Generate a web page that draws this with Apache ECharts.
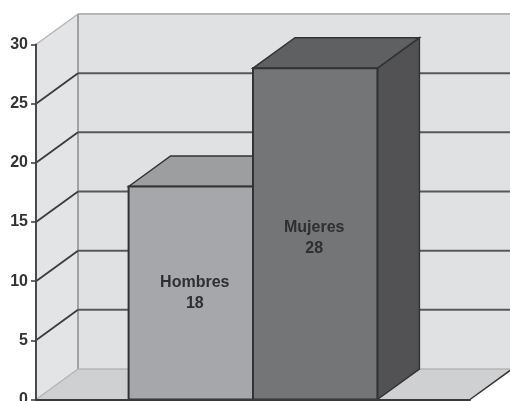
<!DOCTYPE html>
<html>
<head>
<meta charset="utf-8">
<style>
html,body{margin:0;padding:0;background:#fff;overflow:hidden}
#c{width:510px;height:401px;filter:blur(0.45px)}
</style>
<script src="https://cdn.jsdelivr.net/npm/echarts@6/dist/echarts.min.js"></script>
</head>
<body>
<div id="c"></div>
<script>
var categories = ['Hombres', 'Mujeres'];
var values = [18, 28];
var gridValues = [5, 10, 15, 20, 25];
var tickValues = [0, 5, 10, 15, 20, 25, 30];

var DX = 42, DY = -30.5, BAR_RATIO = 124.4 / 434;
var faces = {
  Hombres: {front: '#a6a7aa', top: '#9d9ea0', side: '#8a8b8d', dx: 4, dy: 0},
  Mujeres: {front: '#747577', top: '#5f6062', side: '#525254', dx: -1, dy: 4}
};
var FONT = 'bold 16px "Liberation Sans", Arial, sans-serif';

function poly(points, fill, stroke, width) {
  return {type: 'polygon', shape: {points: points},
    style: {fill: fill, stroke: stroke || 'none', lineWidth: width || 0}};
}
function line(x1, y1, x2, y2, stroke, width) {
  return {type: 'line', shape: {x1: x1, y1: y1, x2: x2, y2: y2},
    style: {stroke: stroke, lineWidth: width, fill: 'none'}};
}

function renderBack(params, api) {
  if (params.dataIndex !== 0) return {type: 'group', children: []};
  var size = api.size([0, 1]);
  var band = size[0];
  var c = api.coord([0, 0]);
  var L = c[0] - band / 2, R = c[0] + band / 2, B = c[1];
  var T = api.coord([0, 30])[1];
  var wall = '#e0e1e3', floor = '#cfd0d2', edge = '#b4b5b7';
  var kids = [
    poly([[L + DX, T + DY], [R + DX, T + DY], [R + DX, B + DY], [L + DX, B + DY]], wall),
    poly([[L, T], [L + DX, T + DY], [L + DX, B + DY], [L, B]], '#e3e4e6'),
    poly([[L, B], [L + DX, B + DY], [R + DX, B + DY], [R, B]], floor),
    line(L + DX, T + DY, R + DX, T + DY, edge, 2),
    line(L, T, L + DX, T + DY, edge, 1.5),
    line(L + DX, T + DY, L + DX, B + DY, '#a0a1a3', 2),
    line(L + DX, B + DY, R + DX, B + DY, edge, 1.5),
    line(L, B, L + DX, B + DY, edge, 1.5),
    line(R, B, R + DX, B + DY, '#333', 1.5)
  ];
  gridValues.forEach(function (v) {
    var y = api.coord([0, v])[1];
    kids.push(line(L, y, L + DX, y + DY, '#3c3c3e', 1.8));
    kids.push(line(L + DX, y + DY, R + DX, y + DY, '#57585a', 2));
  });
  return {type: 'group', children: kids};
}

function renderBar(params, api) {
  var i = params.dataIndex;
  var name = categories[i], f = faces[name];
  var band = api.size([0, 1])[0], w = band * BAR_RATIO;
  var c = api.coord([0, 0]);
  var x0 = c[0] + (i - 1) * w, x1 = x0 + w;
  var B = c[1], T = api.coord([0, api.value(1)])[1];
  var s = '#333';
  return {type: 'group', children: [
    poly([[x1, B], [x1 + DX, B + DY], [x1 + DX, T + DY], [x1, T]], f.side, s, 1.5),
    poly([[x0, T], [x0 + DX, T + DY], [x1 + DX, T + DY], [x1, T]], f.top, s, 1.5),
    poly([[x0, T], [x1, T], [x1, B], [x0, B]], f.front, s, 2),
    {type: 'text', style: {
      text: name + '\n' + values[i], x: (x0 + x1) / 2 + f.dx, y: (T + B) / 2 + f.dy,
      fill: '#2f2f31', font: FONT, align: 'center', verticalAlign: 'middle', lineHeight: 21
    }}
  ]};
}

var chart = echarts.init(document.getElementById('c'), null, {renderer: 'canvas', width: 510, height: 401});
chart.setOption({
  animation: false,
  backgroundColor: '#fff',
  grid: {left: 36, right: 40, top: 44.5, bottom: 1.5, outerBoundsMode: 'none'},
  xAxis: {type: 'category', data: ['Total'],
    axisLabel: {show: false}, axisTick: {show: false},
    axisLine: {lineStyle: {color: '#3a3a3c', width: 2}}, z: 5},
  yAxis: {type: 'value', min: 0, max: 30, interval: 5,
    splitLine: {show: false},
    axisLine: {show: true, lineStyle: {color: '#4a4a4c', width: 2}},
    axisTick: {show: true, length: 5, lineStyle: {color: '#3a3a3c', width: 1.5}},
    axisLabel: {color: '#333', margin: 8, fontFamily: '"Liberation Sans", Arial, sans-serif',
      fontWeight: 'bold', fontSize: 16, hideOverlap: false,
      formatter: function (v) { return tickValues.indexOf(v) >= 0 ? String(v) : ''; }}, z: 5},
  series: [
    {type: 'custom', silent: true, z: 1, clip: false, renderItem: renderBack,
      data: [[0, 0]], encode: {x: 0, y: 1}},
    {type: 'custom', silent: true, z: 2, clip: false, renderItem: renderBar,
      data: values.map(function (v) { return [0, v]; }), encode: {x: 0, y: 1}}
  ]
});
</script>
</body>
</html>
